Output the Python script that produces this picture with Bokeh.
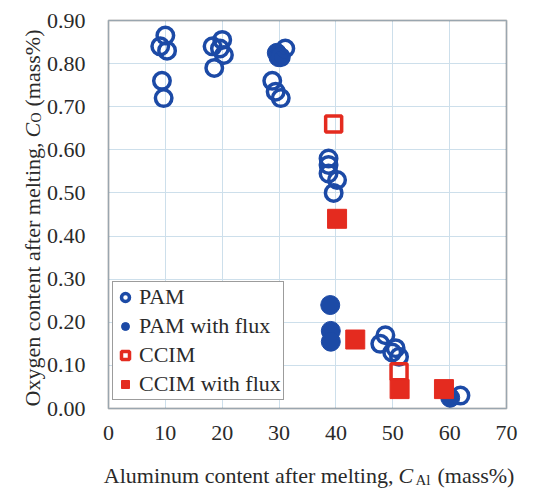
import math
from bokeh.plotting import figure
from bokeh.models import (Range1d, FixedTicker, NumeralTickFormatter, Legend,
                          LegendItem, Label, BoxAnnotation)
from bokeh.embed import file_html
from bokeh.resources import INLINE

# ---- data ----
pam_x = [9.1, 10.0, 10.3, 9.4, 9.7,
         18.3, 20.0, 20.3, 18.6, 19.6,
         31.1, 30.3, 28.8, 29.4, 30.3,
         38.7, 38.7, 38.7, 40.2, 39.6,
         48.7, 47.8, 50.5, 49.9, 51.1, 61.9]
pam_y = [0.84, 0.865, 0.83, 0.76, 0.72,
         0.84, 0.855, 0.82, 0.79, 0.835,
         0.835, 0.815, 0.76, 0.735, 0.72,
         0.58, 0.565, 0.545, 0.53, 0.50,
         0.17, 0.15, 0.14, 0.13, 0.12, 0.03]

pamf_x = [29.6, 29.9, 39.0, 39.1, 39.1, 60.1]
pamf_y = [0.825, 0.815, 0.24, 0.18, 0.155, 0.025]

ccim_x = [39.6, 51.1]
ccim_y = [0.66, 0.085]

ccimf_x = [40.2, 43.4, 51.2, 59.0]
ccimf_y = [0.44, 0.16, 0.045, 0.045]

x_ticks = [0, 10, 20, 30, 40, 50, 60, 70]
y_ticks = [0.0, 0.1, 0.2, 0.3, 0.4, 0.5, 0.6, 0.7, 0.8, 0.9]

series_labels = ["PAM", "PAM with flux", "CCIM", "CCIM with flux"]

# ---- layout (pixels) ----
W, H = 534, 488
BOX_L, BOX_R, BOX_T, BOX_B = 108, 506, 20, 408

BLUE = "#1c4aa6"
RED = "#e42b1f"
FONT = "Liberation Serif"
TXT = "#2a2a2a"

x_min, x_max = x_ticks[0], x_ticks[-1]
y_min, y_max = y_ticks[0], y_ticks[-1]
sx = (BOX_R - BOX_L) / (x_max - x_min)
sy = (BOX_B - BOX_T) / (y_max - y_min)
x_range = Range1d(x_min - BOX_L / sx, x_max + (W - BOX_R) / sx)
y_range = Range1d(y_min - (H - BOX_B) / sy, y_max + BOX_T / sy)

p = figure(width=W, height=H, output_backend="svg", toolbar_location=None,
           x_range=x_range, y_range=y_range,
           min_border_left=0, min_border_right=0,
           min_border_top=0, min_border_bottom=0,
           background_fill_color="white", border_fill_color="white")
p.outline_line_color = None

for ax in (p.xaxis[0], p.yaxis[0]):
    ax.axis_line_color = None
    ax.major_tick_line_color = None
    ax.minor_tick_line_color = None
    ax.major_tick_in = 0
    ax.major_tick_out = 0
    ax.minor_tick_in = 0
    ax.minor_tick_out = 0
    ax.major_label_text_font = FONT
    ax.major_label_text_font_size = "22px"
    ax.major_label_text_color = TXT

p.xaxis.fixed_location = y_min
p.yaxis.fixed_location = x_min
p.xaxis.ticker = FixedTicker(ticks=x_ticks)
p.yaxis.ticker = FixedTicker(ticks=y_ticks)
p.yaxis.formatter = NumeralTickFormatter(format="0.00")
p.xaxis.major_label_standoff = 17
p.yaxis.major_label_standoff = 23

p.xgrid.ticker = FixedTicker(ticks=x_ticks)
p.ygrid.ticker = FixedTicker(ticks=y_ticks)
p.xgrid.bounds = (x_min, x_max)
p.ygrid.bounds = (y_min, y_max)
p.xgrid.cross_bounds = (y_min, y_max)
p.ygrid.cross_bounds = (x_min, x_max)
p.xgrid.grid_line_color = "#cddfeb"
p.ygrid.grid_line_color = "#cddfeb"
p.xgrid.grid_line_width = 1
p.ygrid.grid_line_width = 1

r_pamf = p.scatter(pamf_x, pamf_y, marker="circle", size=19,
                   fill_color=BLUE, line_color=BLUE, line_width=1)
r_pam = p.scatter(pam_x, pam_y, marker="circle", size=16.5,
                  fill_color=None, line_color=BLUE, line_width=3.5)
r_ccim = p.scatter(ccim_x, ccim_y, marker="square", size=16,
                   fill_color=None, line_color=RED, line_width=3.5)
r_ccimf = p.scatter(ccimf_x, ccimf_y, marker="square", size=19,
                    fill_color=RED, line_color=RED, line_width=1)

# plot-area frame
p.add_layout(BoxAnnotation(left=x_min, right=x_max, bottom=y_min, top=y_max,
                           fill_alpha=0, line_color="#262626", line_width=2))

legend = Legend(items=[LegendItem(label=series_labels[0], renderers=[r_pam]),
                       LegendItem(label=series_labels[1], renderers=[r_pamf]),
                       LegendItem(label=series_labels[2], renderers=[r_ccim]),
                       LegendItem(label=series_labels[3], renderers=[r_ccimf])],
                location=(BOX_L + 4, H - BOX_B + 8))
legend.label_text_font = FONT
legend.label_text_font_size = "22px"
legend.label_text_color = TXT
legend.glyph_width = 20
legend.glyph_height = 24
legend.label_height = 24
legend.label_standoff = 4
legend.spacing = 3
legend.padding = 2
legend.margin = 0
legend.border_line_color = "#3a3a3a"
legend.border_line_width = 1.5
legend.background_fill_color = "white"
legend.background_fill_alpha = 1
p.add_layout(legend)

# ---- x axis title with subscript ----
xa, ya = 51.0, -0.1554
p.add_layout(Label(x=xa, y=ya, x_offset=-5, text="Aluminum content after melting,",
                   text_font=FONT, text_font_size="22px", text_color=TXT,
                   text_align="right", text_baseline="alphabetic"))
p.add_layout(Label(x=xa, y=ya, text="C", text_font=FONT, text_font_size="22px",
                   text_font_style="italic", text_color=TXT,
                   text_align="left", text_baseline="alphabetic"))
p.add_layout(Label(x=xa, y=ya, x_offset=17, y_offset=-5, text="Al",
                   text_font=FONT, text_font_size="15px", text_color=TXT,
                   text_align="left", text_baseline="alphabetic"))
p.add_layout(Label(x=xa, y=ya, x_offset=39, text="(mass%)",
                   text_font=FONT, text_font_size="22px", text_color=TXT,
                   text_align="left", text_baseline="alphabetic"))

# ---- y axis title with subscript ----
yx, yy = -13.37, 0.6286
ang = math.pi / 2
p.add_layout(Label(x=yx, y=yy, y_offset=-5, angle=ang,
                   text="Oxygen content after melting,",
                   text_font=FONT, text_font_size="22px", text_color=TXT,
                   text_align="right", text_baseline="alphabetic"))
p.add_layout(Label(x=yx, y=yy, angle=ang, text="C",
                   text_font=FONT, text_font_size="22px", text_font_style="italic",
                   text_color=TXT, text_align="left", text_baseline="alphabetic"))
p.add_layout(Label(x=yx, y=yy, x_offset=4, y_offset=15, angle=ang, text="O",
                   text_font=FONT, text_font_size="14px", text_color=TXT,
                   text_align="left", text_baseline="alphabetic"))
p.add_layout(Label(x=yx, y=yy, y_offset=31, angle=ang, text="(mass%)",
                   text_font=FONT, text_font_size="22px", text_color=TXT,
                   text_align="left", text_baseline="alphabetic"))

open("out.html", "w").write(file_html(p, INLINE))
